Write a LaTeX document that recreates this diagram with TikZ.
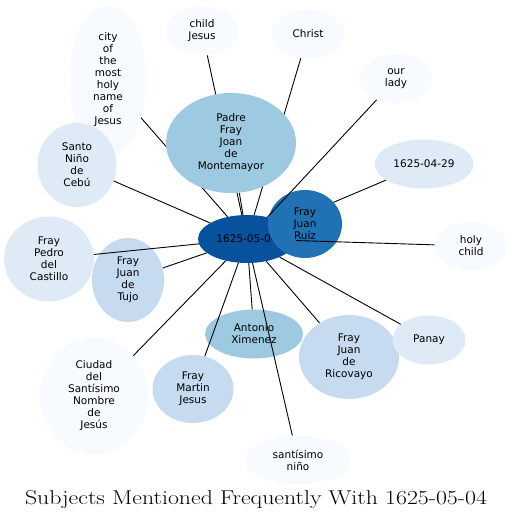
\documentclass[tikz,border=0pt]{standalone}
\usepackage{fontspec}
\newfontfamily\labelfont{DejaVu Sans}
\usetikzlibrary{shapes.geometric}
\definecolor{blA}{HTML}{F7FBFF}
\definecolor{blB}{HTML}{DEEBF7}
\definecolor{blC}{HTML}{C6DBEF}
\definecolor{blD}{HTML}{9ECAE1}
\definecolor{blE}{HTML}{2171B5}
\definecolor{blF}{HTML}{08519C}
\pgfdeclarelayer{bottom}
\pgfdeclarelayer{low}
\pgfdeclarelayer{mid}
\pgfdeclarelayer{edges}
\pgfsetlayers{bottom,low,mid,edges,main}

\begin{document}
\begin{tikzpicture}[x=1pt,y=-1pt,
  subj/.style={ellipse,inner sep=0pt,align=center,
               font=\labelfont\fontsize{10.5}{12}\selectfont},
  sz/.style 2 args={minimum width=#1pt,minimum height=#2pt},
  link/.style={draw=black,line width=0.9pt}
]
  \useasboundingbox (0,0) rectangle (513,521);
  \begin{pgfonlayer}{bottom}
    \node[subj,fill=blF,sz={98}{48}] (hub) at (247,239) {1625-05-04};
  \end{pgfonlayer}
  \begin{pgfonlayer}{mid}
    \node[subj,fill=blE,sz={74}{68}]  (ruiz)   at (305,224) {Fray\\Juan\\Ruiz};
    \node[subj,fill=blA,sz={76}{150}] (city)   at (108,80)  {city\\of\\the\\most\\holy\\name\\of\\Jesus};
    \node[subj,fill=blA,sz={73}{49}]  (childj) at (202,31)  {child\\Jesus};
    \node[subj,fill=blA,sz={73}{49}]  (christ) at (308,34)  {Christ};
    \node[subj,fill=blA,sz={72}{49}]  (lady)   at (396,79)  {our\\lady};
    \node[subj,fill=blB,sz={79}{84}]  (nino)   at (77,165)  {Santo\\Niño\\de\\Cebú};
    \node[subj,fill=blB,sz={99}{49}]  (d0429)  at (424,164) {1625-04-29};
    \node[subj,fill=blA,sz={73}{49}]  (holy)   at (471,246) {holy\\child};
    \node[subj,fill=blB,sz={90}{85}]  (pedro)  at (49,259)  {Fray\\Pedro\\del\\Castillo};
    \node[subj,fill=blC,sz={72}{84}]  (tujo)   at (128,280) {Fray\\Juan\\de\\Tujo};
    \node[subj,fill=blD,sz={98}{49}]  (anton)  at (254,334) {Antonio\\Ximenez};
    \node[subj,fill=blC,sz={100}{84}] (rico)   at (349,357) {Fray\\Juan\\de\\Ricovayo};
    \node[subj,fill=blB,sz={73}{49}]  (panay)  at (429,340) {Panay};
    \node[subj,fill=blA,sz={108}{117}](ciudad) at (94,396)  {Ciudad\\del\\Santísimo\\Nombre\\de\\Jesús};
    \node[subj,fill=blC,sz={81}{68}]  (martin) at (193,389) {Fray\\Martin\\Jesus};
    \node[subj,fill=blA,sz={106}{49}] (snino)  at (298,460) {santísimo\\niño};
  \end{pgfonlayer}
  \node[subj,fill=blD,sz={130}{100}] (padre) at (231,143) {Padre\\Fray\\Joan\\de\\Montemayor};

  % edges hidden under Ruiz
  \begin{pgfonlayer}{low}
    \draw[link] (hub) -- (ruiz);
    \draw[link] (hub) -- (d0429);
  \end{pgfonlayer}
  \begin{pgfonlayer}{edges}
    \foreach \t in {city,childj,christ,lady,padre,nino,holy,pedro,
                    tujo,anton,rico,panay,ciudad,martin,snino}
      \draw[link] (hub) -- (\t);
  \end{pgfonlayer}

  \node[font=\fontsize{20}{24}\selectfont,anchor=base] (title) at (256,504)
    {\scalebox{1.19}[1]{Subjects Mentioned Frequently With 1625-05-04}};
\end{tikzpicture}
\end{document}
